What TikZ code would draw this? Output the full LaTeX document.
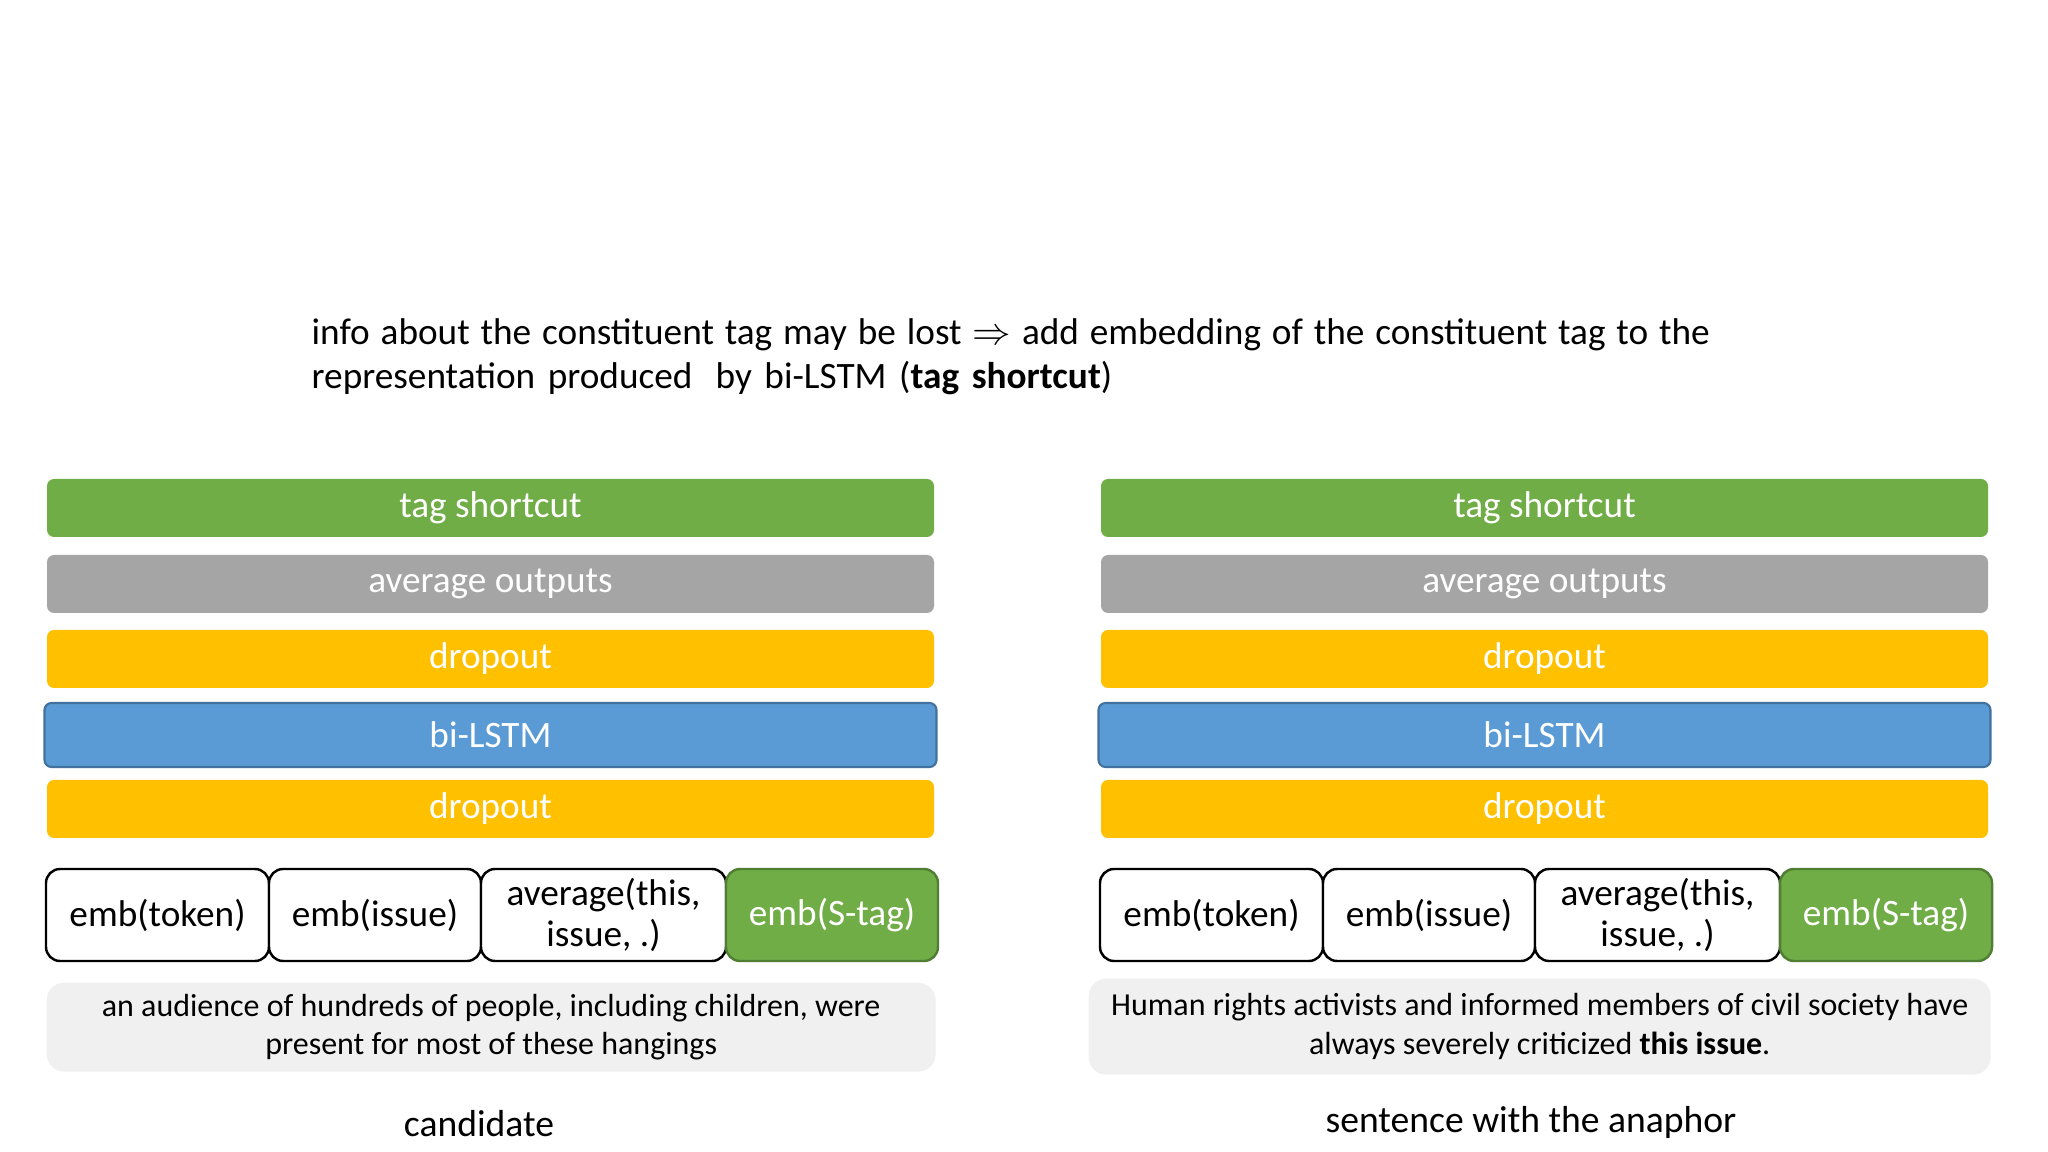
\documentclass[tikz,border=0pt]{standalone}
\usepackage{fontspec}
\setmainfont{Carlito}
\usetikzlibrary{positioning}

\definecolor{tagGreen}{HTML}{70AD47}
\definecolor{tagGreenDark}{HTML}{507E32}
\definecolor{avgGrey}{HTML}{A5A5A5}
\definecolor{dropYellow}{HTML}{FFC000}
\definecolor{lstmBlue}{HTML}{5B9BD5}
\definecolor{lstmBlueDark}{HTML}{41719C}
\definecolor{sentGrey}{HTML}{F0F0F0}

\begin{document}
\begin{tikzpicture}[
x=0.1mm, y=0.1mm,
bar/.style={rectangle, rounded corners=2pt, minimum width=88.7mm, minimum height=5.8mm, inner sep=0pt, outer sep=0pt, text=white, font=\fontsize{10.6}{12.5}\selectfont},
lstm/.style={bar, fill=lstmBlue, draw=lstmBlueDark, line width=0.6pt, minimum width=89.2mm, minimum height=6.4mm},
emb/.style={rectangle, rounded corners=4pt, draw=black, line width=0.7pt, fill=white, minimum height=9.2mm, inner sep=0pt, outer sep=0pt, align=center, font=\fontsize{10.6}{11.6}\selectfont},
tagemb/.style={emb, fill=tagGreen, draw=tagGreenDark, text=white},
sentence/.style={rectangle, rounded corners=5pt, fill=sentGrey, inner sep=0pt, align=center, font=\fontsize{9.1}{11}\selectfont},
caption/.style={font=\fontsize{10.7}{12.5}\selectfont}
]
\useasboundingbox (0,0) rectangle (2048,-1152);

%Heading
\node[anchor=north west, inner sep=0pt, align=left, font=\fontsize{10.6}{12.5}\selectfont] (head) at (311,-318)
  {\spaceskip=3.1pt\relax info about the constituent tag may be lost $\Rightarrow$ add embedding of the constituent tag to the\\
   \spaceskip=3.6pt\relax representation produced\hspace{3pt} by bi-LSTM (\textbf{tag shortcut})};

%Layer stacks
\foreach \p/\x in {L/47, R/1101} {
  \node[bar, fill=tagGreen, anchor=north west] (\p-tag) at (\x,-479) {tag shortcut};
  \node[bar, fill=avgGrey, below=1.8mm of \p-tag] (\p-avg) {average outputs};
  \node[bar, fill=dropYellow, below=1.7mm of \p-avg] (\p-drop1) {dropout};
  \node[lstm, below=1.5mm of \p-drop1] (\p-lstm) {bi-LSTM};
  \node[bar, fill=dropYellow, below=1.3mm of \p-lstm] (\p-drop2) {dropout};
  % embeddings
  \node[emb, minimum width=22.3mm, anchor=north west] (\p-tok) at (\x-1,-869) {emb(token)};
  \node[emb, minimum width=21.2mm, right=0pt of \p-tok] (\p-iss) {emb(issue)};
  \node[emb, minimum width=24.5mm, right=0pt of \p-iss] (\p-ave) {average(this,\\ issue, .)};
  \node[tagemb, minimum width=21.2mm, right=0pt of \p-ave] (\p-stag) {emb(S-tag)};
}

%Sentences
\node[sentence, minimum width=88.9mm, minimum height=8.9mm, anchor=north west] (L-sent) at (46,-982)
  {an audience of hundreds of people, including children, were\\ present for most of these hangings};
\node[sentence, minimum width=90.2mm, minimum height=9.6mm, anchor=north west] (R-sent) at (1088,-978)
  {Human rights activists and informed members of civil society have\\ always severely criticized \textbf{this issue}.};

\node[caption] (L-cap) at (479,-1124) {candidate};
\node[caption] (R-cap) at (1531,-1122) {sentence with the anaphor};
\end{tikzpicture}
\end{document}
